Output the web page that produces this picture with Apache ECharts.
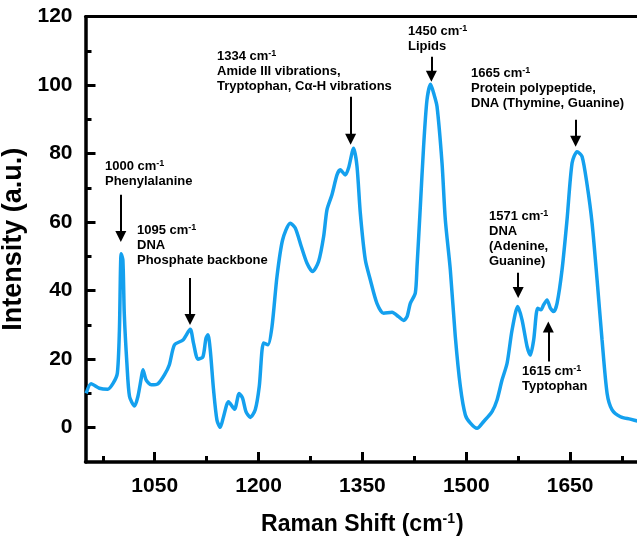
<!DOCTYPE html>
<html>
<head>
<meta charset="utf-8">
<title>Raman spectrum</title>
<script src="https://cdn.jsdelivr.net/npm/echarts@6.0.0/dist/echarts.min.js"></script>
<style>
  html, body { margin: 0; padding: 0; background: #ffffff; }
  #chart { width: 637px; height: 538px; }
</style>
</head>
<body>
<div id="chart"></div>
<script>
// Raman shift (cm-1) and intensity (a.u.) of the averaged spectrum
const ramanShift = [
  951, 958, 970, 982, 990, 996, 999, 1001.5, 1004, 1006, 1009.8, 1013.6, 1020.8, 1025.7,
  1030.5, 1033, 1037.7, 1045, 1054.6, 1064, 1071, 1078.6, 1090.8, 1101.3, 1106, 1112.4,
  1119.6, 1124, 1126.9, 1130.2, 1135, 1139.9, 1144.7, 1149.4, 1156.6, 1165.3, 1172, 1176.9,
  1181.8, 1188, 1195.2, 1201, 1207.2, 1213.6, 1219.4, 1226.6, 1234.7, 1245.8, 1253, 1261.7,
  1270, 1278, 1286.7, 1294, 1298.8, 1306, 1313.3, 1318, 1325.3, 1330, 1337.3, 1342.2, 1347,
  1354.2, 1361.4, 1371, 1380.6, 1392.8, 1402.3, 1409.5, 1414.5, 1419.2, 1426.4, 1428.9,
  1433.7, 1438.4, 1443.3, 1448.5, 1452.9, 1457.8, 1465, 1469.8, 1477, 1484.2, 1491.5,
  1498.7, 1506, 1515.6, 1525.2, 1537.3, 1544.5, 1551.7, 1559, 1566.2, 1574.4, 1580.6,
  1587.9, 1592.6, 1597.4, 1603.2, 1608, 1611.9, 1616.7, 1621.5, 1626.3, 1631.2, 1638.4,
  1645.6, 1652.9, 1660.1, 1667.3, 1674.6, 1681.8, 1689, 1696.2, 1703.5, 1710.7, 1722.7,
  1737, 1750
];
const intensity = [
  10.0, 12.8, 11.5, 11.2, 13.0, 15.9, 28.5, 50.8, 49.0, 33.4, 18.8, 9.1, 6.3, 9.1,
  14.4, 16.9, 13.9, 12.5, 12.8, 15.4, 18.3, 24.2, 25.6, 28.7, 24.7, 20.0,
  20.7, 26.1, 27.1, 22.7, 11.0, 2.2, 0.1, 3.2, 7.6, 5.4, 10.0, 8.6,
  4.7, 3.0, 5.2, 12.0, 24.7, 24.2, 29.5, 44.1, 54.8, 59.7, 58.3, 52.9,
  48.0, 45.6, 48.5, 55.8, 63.6, 68.0, 73.8, 75.3, 73.8, 75.8, 81.6, 76.3, 62.6,
  49.0, 43.2, 36.3, 33.4, 33.7, 32.4, 31.3, 32.4, 36.3, 39.3, 47.0,
  64.6, 82.1, 95.7, 100.3, 97.7, 93.8, 77.3, 60.7, 46.1, 26.6, 12.0,
  3.7, 1.3, -0.2, 1.8, 4.7, 8.1, 13.9, 18.8, 28.5, 35.4, 31.5,
  23.7, 21.2, 25.6, 34.9, 34.4, 35.9, 37.3, 34.9, 33.9, 36.3, 46.1,
  60.7, 77.3, 80.6, 79.2, 70.9, 59.7, 43.2, 25.6, 10.0, 5.2, 3.2,
  2.5, 1.8
];

// Axis tick values
const xMajorTicks = [1050, 1200, 1350, 1500, 1650];
const xMinorTicks = [975, 1125, 1275, 1425, 1575, 1725];
const yMajorTicks = [0, 20, 40, 60, 80, 100, 120];
const yMinorTicks = [10, 30, 50, 70, 90, 110];

// Band assignments: wavenumber text and description lines
const bandWavenumbers = ['1000', '1095', '1334', '1450', '1665', '1571', '1615'];
const bandDescriptions = [
  ['Phenylalanine'],
  ['DNA', 'Phosphate backbone'],
  ['Amide III vibrations,', 'Tryptophan, C\u03B1-H vibrations'],
  ['Lipids'],
  ['Protein polypeptide,', 'DNA (Thymine, Guanine)'],
  ['DNA', '(Adenine,', 'Guanine)'],
  ['Typtophan']
];
// Arrow for each band: shift, tail intensity, head intensity
const arrowShift = [1001, 1101, 1333, 1449.6, 1658, 1575, 1618.6];
const arrowTail = [68, 43.7, 96.6, 108.3, 89.9, 45.2, 19.3];
const arrowHead = [54.2, 30, 82.6, 101, 82, 37.9, 31];

// Placement of each annotation text block (pixels)
const textBoxes = [
  { left: 105, top: 159 },
  { left: 137, top: 223 },
  { left: 217, top: 49 },
  { left: 408, top: 24 },
  { left: 471, top: 66 },
  { left: 489, top: 209 },
  { left: 522, top: 364 }
];

const FONT = 'Arial, "Liberation Sans", Helvetica, sans-serif';
const LINE_BLUE = '#14a0ee';

const chart = echarts.init(document.getElementById('chart'), null, { renderer: 'canvas' });

const gridBox = {
  left: 85.5, top: 16.7, right: -2.3, bottom: 76.1,
  containLabel: false, outerBoundsMode: 'none'
};

const tickLabelStyle = {
  color: '#000', fontFamily: FONT, fontWeight: 'bold', fontSize: 21,
  formatter: v => String(v)
};

const headAdjust = 1.6; // head symbol is centred on the end point
const arrowData = arrowShift.map((x, i) => {
  const down = arrowHead[i] < arrowTail[i];
  const end = down ? arrowHead[i] + headAdjust : arrowHead[i] - headAdjust;
  return [{ coord: [x, arrowTail[i]] }, { coord: [x, end] }];
});

const richText = {
  b: { fontFamily: FONT, fontWeight: 'bold', fontSize: 13, lineHeight: 15, fill: '#000', color: '#000' },
  sup: { fontFamily: FONT, fontWeight: 'bold', fontSize: 9, lineHeight: 15, verticalAlign: 'top', fill: '#000', color: '#000' }
};

const annotationGraphics = bandWavenumbers.map((wn, i) => {
  const lines = ['{b|' + wn + ' cm}{sup|-1}'].concat(bandDescriptions[i].map(t => '{b|' + t + '}'));
  return {
    type: 'text',
    left: textBoxes[i].left,
    top: textBoxes[i].top,
    silent: true,
    style: {
      text: lines.join('\n'),
      rich: richText,
      font: 'bold 13px ' + FONT,
      fill: '#000',
      lineHeight: 15
    }
  };
});

// Tick-only axis (no line, no labels) sharing the main scale
function tickAxis(kind, position, values, len) {
  const range = kind === 'x' ? { min: 950, max: 1750, interval: 25 } : { min: -10, max: 120, interval: 10 };
  return Object.assign({
    type: 'value',
    position: position,
    axisLine: { show: false, onZero: false },
    axisTick: { show: true, inside: true, length: len, customValues: values, lineStyle: { color: '#000', width: 3 } },
    axisLabel: { show: false },
    splitLine: { show: false }
  }, range);
}

const option = {
  animation: false,
  backgroundColor: '#ffffff',
  grid: gridBox,
  xAxis: [
    {
      type: 'value', min: 950, max: 1750, interval: 25,
      position: 'bottom',
      name: 'Raman Shift (cm{sup|-1})',
      nameLocation: 'middle', nameGap: 50,
      nameTextStyle: {
        color: '#000', fontFamily: FONT, fontWeight: 'bold', fontSize: 23,
        rich: {
          sup: { fontFamily: FONT, fontWeight: 'bold', fontSize: 14, verticalAlign: 'top', color: '#000', padding: [0, 1, 12, 0] }
        }
      },
      axisLine: { show: true, onZero: false, lineStyle: { color: '#000', width: 3.5 } },
      axisTick: { show: false },
      axisLabel: { show: true, margin: 14, customValues: xMajorTicks, ...tickLabelStyle },
      splitLine: { show: false }
    },
    tickAxis('x', 'bottom', xMajorTicks, 10),
    tickAxis('x', 'bottom', xMinorTicks, 6),
    {
      type: 'value', min: 950, max: 1750, interval: 25,
      position: 'top',
      axisLine: { show: true, onZero: false, lineStyle: { color: '#000', width: 3 } },
      axisTick: { show: false },
      axisLabel: { show: false },
      splitLine: { show: false }
    }
  ],
  yAxis: [
    {
      type: 'value', min: -10, max: 120, interval: 10,
      position: 'left',
      name: 'Intensity (a.u.)',
      nameLocation: 'middle', nameGap: 53, nameRotate: 90,
      nameTextStyle: { color: '#000', fontFamily: FONT, fontWeight: 'bold', fontSize: 27 },
      axisLine: { show: true, onZero: false, lineStyle: { color: '#000', width: 3.5 } },
      axisTick: { show: false },
      axisLabel: { show: true, margin: 13, customValues: yMajorTicks, ...tickLabelStyle },
      splitLine: { show: false }
    },
    tickAxis('y', 'left', yMajorTicks, 10),
    tickAxis('y', 'left', yMinorTicks, 6)
  ],
  series: [
    {
      type: 'line',
      xAxisIndex: 0,
      yAxisIndex: 0,
      data: ramanShift.map((x, i) => [x, intensity[i]]),
      showSymbol: false,
      smooth: 0.25,
      clip: true,
      lineStyle: { color: LINE_BLUE, width: 3.5 },
      z: 3,
      markLine: {
        silent: true,
        symbol: ['none', 'path://M5,0L10,14L0,14Z'],
        symbolSize: 11,
        label: { show: false },
        lineStyle: { color: '#000', width: 2, type: 'solid' },
        emphasis: { disabled: true },
        data: arrowData
      }
    }
  ],
  graphic: annotationGraphics
};

chart.setOption(option);
</script>
</body>
</html>
